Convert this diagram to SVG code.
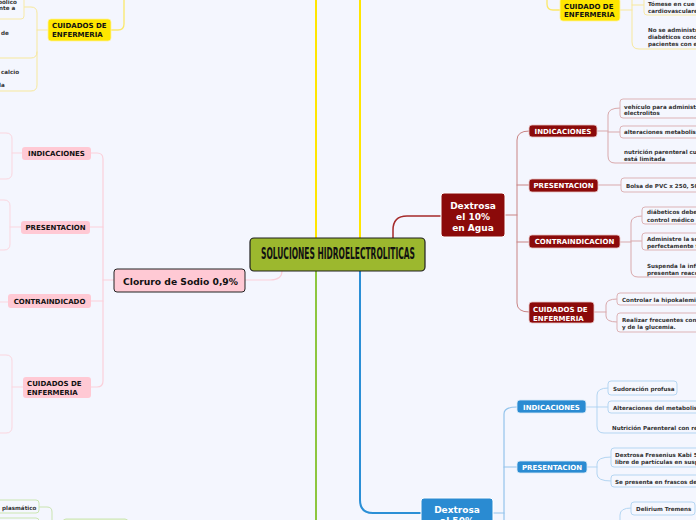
<svg xmlns="http://www.w3.org/2000/svg" width="696" height="520" viewBox="0 0 696 520">
<style>
.t{font-family:"DejaVu Sans","Liberation Sans",sans-serif;font-weight:bold}
.leaf{font-size:5.6px;fill:#333}
.sub{font-size:7px}
.c{fill:none;stroke-linecap:round}
.ym{stroke:#FFE600;stroke-width:2}
.yl{stroke:#F7E89C;stroke-width:1}
.pm{stroke:#FBD0DA;stroke-width:1.2}
.pl{stroke:#FBD6DF;stroke-width:1}
.rm{stroke:#A52A2A;stroke-width:1.5}
.rs{stroke:#C98484;stroke-width:1}
.rl{stroke:#D9A9AC;stroke-width:1}
.bm{stroke:#2B8FD6;stroke-width:2}
.bs{stroke:#93C4EC;stroke-width:1.2}
.bl{stroke:#B3D5F2;stroke-width:1}
.gm{stroke:#8DC63F;stroke-width:2}
.gl{stroke:#C9E4B0;stroke-width:1}
.bx{fill:#F5F7FE;stroke-width:1}
.rb{stroke:#DDB3B6}.bb{stroke:#B5D6F2}.yb{stroke:#F7E9A6}.pb{stroke:#FBD6DF}.gb{stroke:#CBE6B2}
.rn{fill:#8B0A0A;stroke:#E8C4C4;stroke-width:0.8}
.bn{fill:#2A8BD2;stroke:#D8EAF8;stroke-width:0.8}
.pn{fill:#FFC9D4}
.yn{fill:#FFE600;stroke:#FFF3A0;stroke-width:0.8}
.w{fill:#fff}.k{fill:#111}
</style>
<rect width="696" height="520" fill="#F4F6FE"/>
<g id="connectors">
<path class="c ym" d="M316,238 V0"/>
<path class="c ym" d="M360,238 V0"/>
<path class="c gm" d="M316,271 V520"/>
<path class="c bm" d="M360,271 V500 Q360,513 373,513 H421"/>
<path class="c rm" d="M393,238 V230 Q393,216 407,216 H441"/>
<path class="c pm" d="M282,271 Q282,280 270,280 H245"/>
<!-- yellow top-left -->
<path class="c ym" d="M111,30 H118 Q124,30 124,24 V0" style="stroke-width:1.3;stroke:#FBE86A"/>
<path class="c yl" d="M48,30 H37"/>
<path class="c yl" d="M24,7 H31 Q37,7 37,13 V85 Q37,91 31,91 H0"/>
<path class="c yl" d="M37,52 Q37,58 31,58 H0"/>
<!-- yellow top-right -->
<path class="c ym" d="M547,0 V4 Q547,10 553,10 H560" style="stroke-width:1.3;stroke:#FBE86A"/>
<path class="c yl" d="M620,10 H632"/>
<path class="c yl" d="M632,0 V42 Q632,49 639,49 H696"/>
<path class="c yl" d="M632,5 H644"/>
<!-- pink -->
<path class="c pm" d="M114,280 H103"/>
<path class="c pm" d="M91,153 H97 Q103,153 103,159 V381 Q103,387 97,387 H91"/>
<path class="c pm" d="M103,227 H90"/>
<path class="c pm" d="M103,301 H91"/>
<path class="c pl" d="M22,153 H12"/>
<path class="c pl" d="M0,133 H6 Q12,133 12,139 V173 Q12,179 6,179 H0"/>
<path class="c pl" d="M21,227 H10"/>
<path class="c pl" d="M0,200 H4 Q10,200 10,206 V244 Q10,250 4,250 H0"/>
<path class="c pl" d="M8,302 H0"/>
<path class="c pl" d="M23,387 H12"/>
<path class="c pl" d="M0,355 H6 Q12,355 12,361 V427 Q12,433 6,433 H0"/>
<!-- red -->
<path class="c rs" d="M505,215 H517"/>
<path class="c rs" d="M529,131 Q517,131 517,140 V303 Q517,312 529,312"/>
<path class="c rs" d="M517,185 H529"/>
<path class="c rs" d="M517,242 H529"/>
<path class="c rl" d="M597,131 H608"/>
<path class="c rl" d="M620,108 Q608,108 608,115 V156 Q608,163 615,163 H696"/>
<path class="c rl" d="M608,132 H620"/>
<path class="c rl" d="M598,185 H621"/>
<path class="c rl" d="M620,242 H631"/>
<path class="c rl" d="M642,216 Q631,216 631,223 V270 Q631,277 638,277 H696"/>
<path class="c rl" d="M631,241 H642"/>
<path class="c rl" d="M594,312 H606"/>
<path class="c rl" d="M617,299 Q606,299 606,305 V316 Q606,322 617,322"/>
<!-- blue -->
<path class="c bs" d="M517,407 Q504,407 504,414 V520"/>
<path class="c bs" d="M504,467 H517"/>
<path class="c bs" d="M493,513 H504"/>
<path class="c bl" d="M586,407 H597"/>
<path class="c bl" d="M608,388 Q597,388 597,395 V426 Q597,433 604,433 H696"/>
<path class="c bl" d="M597,407 H608"/>
<path class="c bl" d="M587,467 H597"/>
<path class="c bl" d="M611,457 Q597,457 597,464 V474 Q597,481 611,481"/>
<path class="c bl" d="M631,508 Q620,508 620,515 V520"/>
<!-- green -->
<path class="c gl" d="M39,507 H47 Q52,507 52,512 V520"/>
</g>

<g id="center">
<rect x="250" y="238" width="175" height="33" rx="4" fill="#9CB82E" stroke="#1E1E1E" stroke-width="1.2"/>
<text x="338" y="259" text-anchor="middle" font-family="'DejaVu Sans Condensed','DejaVu Sans',sans-serif" font-weight="bold" font-size="15" textLength="154" lengthAdjust="spacingAndGlyphs" fill="#111">SOLUCIONES HIDROELECTROLITICAS</text>
</g>

<g id="yellow-cuidados-left">
<rect class="yn" x="48" y="19" width="63" height="22" rx="3"/>
<text class="t sub k" x="52" y="28">CUIDADOS DE</text>
<text class="t sub k" x="52" y="37">ENFERMERIA</text>
</g>
<g id="yellow-leaf-1"><rect class="bx yb" x="-60" y="-6" width="84" height="25" rx="3"/>
<text class="t leaf" x="-2" y="3.5">bólico</text><text class="t leaf" x="-1" y="9.5">nte a</text></g>
<g id="yellow-leaf-2"><text class="t leaf" x="1" y="35">de</text></g>
<g id="yellow-leaf-3"><text class="t leaf" x="1" y="74">calcio</text><text class="t leaf" x="-1" y="87">la</text></g>

<g id="yellow-cuidado-right">
<rect class="yn" x="560" y="-2" width="60" height="23" rx="3"/>
<text class="t sub k" x="564" y="9">CUIDADO DE</text>
<text class="t sub k" x="564" y="17">ENFERMERIA</text>
</g>
<g id="yellow-leaf-4"><rect class="bx yb" x="644" y="-6" width="70" height="21" rx="3"/>
<text class="t leaf" x="648" y="6">Tómese en cue</text><text class="t leaf" x="648" y="13">cardiovasculare</text></g>
<g id="yellow-leaf-5"><text class="t leaf" x="648" y="32">No se administr</text><text class="t leaf" x="648" y="39">diabéticos cono</text><text class="t leaf" x="648" y="46">pacientes con e</text></g>

<g id="cloruro">
<rect x="114" y="269" width="131" height="23" rx="3" fill="#FFC9D4" stroke="#222" stroke-width="1"/>
<text class="t" x="123" y="284.5" font-size="9.2" fill="#111">Cloruro de Sodio 0,9%</text>
</g>
<g id="p-indicaciones"><rect class="pn" x="22" y="147" width="69" height="13" rx="3"/><text class="t sub k" x="56.5" y="156" text-anchor="middle">INDICACIONES</text></g>
<g id="p-presentacion"><rect class="pn" x="21" y="221" width="69" height="13" rx="3"/><text class="t sub k" x="55.5" y="230" text-anchor="middle">PRESENTACION</text></g>
<g id="p-contraindicado"><rect class="pn" x="8" y="294" width="83" height="14" rx="3"/><text class="t sub k" x="49.5" y="303.5" text-anchor="middle">CONTRAINDICADO</text></g>
<g id="p-cuidados"><rect class="pn" x="23" y="377" width="68" height="21" rx="3"/><text class="t sub k" x="27" y="385.5">CUIDADOS DE</text><text class="t sub k" x="27" y="394.5">ENFERMERIA</text></g>

<g id="dextrosa10">
<rect class="rn" x="441" y="193" width="64" height="44" rx="3" style="stroke:#fff;stroke-width:1"/>
<text class="t w" font-size="9" text-anchor="middle" x="473" y="208.5">Dextrosa</text>
<text class="t w" font-size="9" text-anchor="middle" x="473" y="219.5">el 10%</text>
<text class="t w" font-size="9" text-anchor="middle" x="473" y="230.5">en Agua</text>
</g>
<g id="r-indicaciones"><rect class="rn" x="529" y="125" width="68" height="12" rx="3"/><text class="t sub w" x="563" y="133.5" text-anchor="middle">INDICACIONES</text></g>
<g id="r-presentacion"><rect class="rn" x="529" y="179" width="69" height="13" rx="3"/><text class="t sub w" x="563.5" y="188" text-anchor="middle">PRESENTACION</text></g>
<g id="r-contraindicacion"><rect class="rn" x="529" y="235" width="91" height="13" rx="3"/><text class="t sub w" x="574.5" y="244" text-anchor="middle">CONTRAINDICACION</text></g>
<g id="r-cuidados"><rect class="rn" x="529" y="302" width="65" height="21" rx="3"/><text class="t sub w" x="533" y="311.5">CUIDADOS DE</text><text class="t sub w" x="533" y="320.5">ENFERMERIA</text></g>
<g id="r-leaf-1"><rect class="bx rb" x="620" y="99" width="90" height="19" rx="3"/><text class="t leaf" x="624" y="108.5">vehículo para administr</text><text class="t leaf" x="624" y="114.5">electrolitos</text></g>
<g id="r-leaf-2"><rect class="bx rb" x="620" y="126" width="90" height="12" rx="3"/><text class="t leaf" x="624" y="134">alteraciones metabolis</text></g>
<g id="r-leaf-3"><text class="t leaf" x="624" y="154">nutrición parenteral cua</text><text class="t leaf" x="624" y="160.5">está limitada</text></g>
<g id="r-leaf-4"><rect class="bx rb" x="621" y="178" width="90" height="14" rx="3"/><text class="t leaf" x="626" y="188">Bolsa de PVC x 250, 50</text></g>
<g id="r-leaf-5"><rect class="bx rb" x="642" y="207" width="70" height="17" rx="3"/><text class="t leaf" x="647" y="214">diábeticos debe</text><text class="t leaf" x="647" y="222">control médico</text></g>
<g id="r-leaf-6"><rect class="bx rb" x="642" y="233" width="70" height="17" rx="3"/><text class="t leaf" x="647" y="241">Administre la sc</text><text class="t leaf" x="647" y="248">perfectamente f</text></g>
<g id="r-leaf-7"><text class="t leaf" x="647" y="268">Suspenda la infu</text><text class="t leaf" x="647" y="274.5">presentan reacc</text></g>
<g id="r-leaf-8"><rect class="bx rb" x="617" y="293" width="90" height="12" rx="3"/><text class="t leaf" x="622" y="302">Controlar la hipokalemia</text></g>
<g id="r-leaf-9"><rect class="bx rb" x="617" y="313" width="90" height="19" rx="3"/><text class="t leaf" x="622" y="322">Realizar frecuentes cont</text><text class="t leaf" x="622" y="328.5">y de la glucemia.</text></g>

<g id="dextrosa50">
<rect class="bn" x="421" y="498" width="72" height="44" rx="3" style="stroke:#fff;stroke-width:1"/>
<text class="t w" font-size="9" text-anchor="middle" x="457" y="512.5">Dextrosa</text>
<text class="t w" font-size="9" text-anchor="middle" x="457" y="523.5">al 50%</text>
</g>
<g id="b-indicaciones"><rect class="bn" x="517" y="400" width="69" height="13" rx="3"/><text class="t sub w" x="551.5" y="409.5" text-anchor="middle">INDICACIONES</text></g>
<g id="b-presentacion"><rect class="bn" x="517" y="461" width="70" height="12" rx="3"/><text class="t sub w" x="552" y="469.5" text-anchor="middle">PRESENTACION</text></g>
<g id="b-leaf-1"><rect class="bx bb" x="608" y="381" width="69" height="14" rx="3"/><text class="t leaf" x="613" y="390.5">Sudoración profusa</text></g>
<g id="b-leaf-2"><rect class="bx bb" x="608" y="401" width="100" height="12" rx="3"/><text class="t leaf" x="613" y="409.5">Alteraciones del metabolis</text></g>
<g id="b-leaf-3"><text class="t leaf" x="612" y="429.5">Nutrición Parenteral con re</text></g>
<g id="b-leaf-4"><rect class="bx bb" x="611" y="448" width="100" height="19" rx="3"/><text class="t leaf" x="615" y="457">Dextrosa Fresenius Kabi 5</text><text class="t leaf" x="615" y="463.5">libre de partículas en susp</text></g>
<g id="b-leaf-5"><rect class="bx bb" x="611" y="475" width="100" height="12" rx="3"/><text class="t leaf" x="615" y="483.5">Se presenta en frascos de</text></g>
<g id="b-leaf-6"><rect class="bx bb" x="631" y="502" width="64" height="13" rx="3"/><text class="t leaf" x="636" y="511">Delirium Tremens</text></g>

<g id="g-leaf-1"><rect class="bx gb" x="-40" y="500" width="79" height="13" rx="3"/><text class="t leaf" x="2" y="509.5">plasmático</text></g>
<g id="g-leaf-2"><rect class="bx gb" x="-40" y="518" width="79" height="13" rx="3"/></g>
<g id="g-node"><rect x="63" y="519" width="65" height="14" rx="3" fill="#E6F3D6" stroke="#CBE6B2"/></g>
</svg>
